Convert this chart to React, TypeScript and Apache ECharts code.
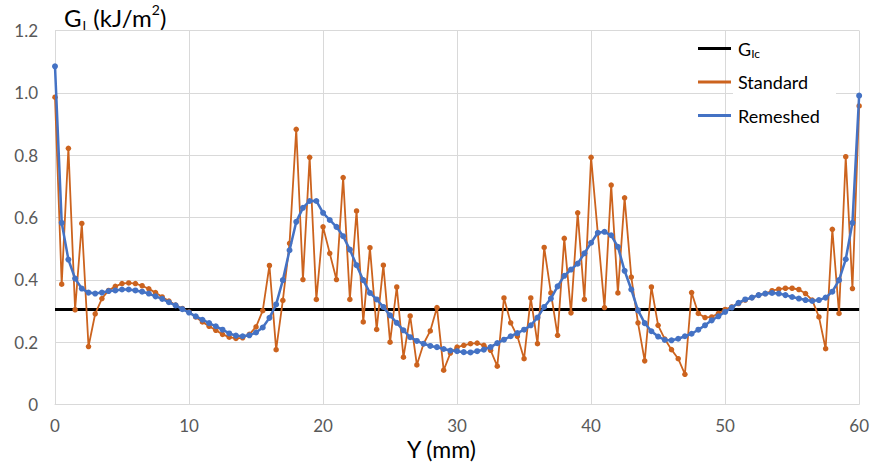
import React, { useEffect, useRef } from "react";
import * as echarts from "echarts";

// Position along Y (mm), sampled every 0.5 mm from 0 to 60
const Y_STEP_MM = 0.5;
const POINT_COUNT = 121;
const Y_POSITIONS: number[] = Array.from({ length: POINT_COUNT }, (_, i) => i * Y_STEP_MM);

// G_I values (kJ/m²) – Standard mesh
const STANDARD: number[] = [
  0.986, 0.386, 0.822, 0.304, 0.581, 0.186, 0.291, 0.340, 0.366, 0.379,
  0.388, 0.390, 0.388, 0.381, 0.371, 0.359, 0.345, 0.332, 0.319, 0.308,
  0.297, 0.281, 0.265, 0.251, 0.238, 0.225, 0.216, 0.212, 0.214, 0.225,
  0.249, 0.301, 0.446, 0.176, 0.334, 0.517, 0.883, 0.401, 0.793, 0.337,
  0.570, 0.485, 0.401, 0.728, 0.337, 0.621, 0.265, 0.503, 0.241, 0.447,
  0.200, 0.377, 0.152, 0.284, 0.127, 0.195, 0.236, 0.311, 0.110, 0.165,
  0.184, 0.190, 0.195, 0.197, 0.190, 0.174, 0.123, 0.342, 0.262, 0.219,
  0.147, 0.342, 0.195, 0.504, 0.358, 0.222, 0.533, 0.294, 0.615, 0.337,
  0.793, 0.550, 0.311, 0.704, 0.358, 0.663, 0.409, 0.262, 0.140, 0.377,
  0.254, 0.210, 0.176, 0.147, 0.097, 0.359, 0.292, 0.279, 0.281, 0.292,
  0.305, 0.313, 0.324, 0.335, 0.343, 0.351, 0.356, 0.365, 0.370, 0.373,
  0.373, 0.369, 0.356, 0.335, 0.281, 0.179, 0.562, 0.292, 0.795, 0.372,
  0.958,
];

// G_I values (kJ/m²) – Remeshed
const REMESHED: number[] = [
  1.085, 0.583, 0.465, 0.404, 0.372, 0.359, 0.356, 0.359, 0.364, 0.366,
  0.369, 0.369, 0.366, 0.362, 0.356, 0.347, 0.339, 0.328, 0.318, 0.306,
  0.295, 0.283, 0.272, 0.261, 0.251, 0.240, 0.228, 0.221, 0.219, 0.222,
  0.231, 0.247, 0.278, 0.321, 0.399, 0.495, 0.586, 0.631, 0.653, 0.653,
  0.615, 0.592, 0.570, 0.540, 0.497, 0.447, 0.399, 0.358, 0.337, 0.313,
  0.286, 0.262, 0.238, 0.216, 0.204, 0.195, 0.188, 0.184, 0.178, 0.173,
  0.171, 0.168, 0.167, 0.171, 0.176, 0.184, 0.197, 0.208, 0.219, 0.229,
  0.240, 0.254, 0.279, 0.313, 0.340, 0.379, 0.413, 0.433, 0.452, 0.485,
  0.519, 0.551, 0.554, 0.543, 0.506, 0.429, 0.369, 0.302, 0.261, 0.235,
  0.218, 0.207, 0.206, 0.211, 0.219, 0.227, 0.240, 0.254, 0.270, 0.283,
  0.297, 0.311, 0.326, 0.337, 0.343, 0.351, 0.356, 0.358, 0.356, 0.351,
  0.345, 0.340, 0.335, 0.332, 0.335, 0.343, 0.362, 0.399, 0.466, 0.583,
  0.991,
];

// Critical energy release rate G_Ic
const GIC_X: number[] = [0, 60];
const GIC_VALUE: number[] = [0.305, 0.305];

const SERIES_NAMES = ["GIc", "Standard", "Remeshed"];

const FONT = "Lato, 'Open Sans', sans-serif";

export default function App() {
  const ref = useRef<HTMLDivElement>(null);

  useEffect(() => {
    if (!ref.current) return;
    const chart = echarts.init(ref.current, undefined, { renderer: "svg" });
    const pairs = (xs: number[], ys: number[]) => xs.map((x, i) => [x, ys[i]]);

    chart.setOption({
      animation: false,
      backgroundColor: "#ffffff",
      textStyle: { fontFamily: FONT },
      grid: { left: 55, right: 10.5, top: 30.5, bottom: 69.5, containLabel: false },
      graphic: [
        {
          type: "rect",
          z: 1,
          shape: { x: 733, y: 88, width: 103, height: 8 },
          style: { fill: "#ffffff" },
          silent: true,
        },
        {
          type: "text",
          left: 64,
          top: 2,
          style: {
            text: "{a|G}{b|I}{a| (kJ/m}{c|2}{a|)}",
            rich: {
              a: { fontFamily: FONT, fontSize: 24, lineHeight: 30, fill: "#000" },
              b: { fontFamily: FONT, fontSize: 13, lineHeight: 14, verticalAlign: "bottom", fill: "#000", padding: [0, 1, 0, 1] },
              c: { fontFamily: FONT, fontSize: 14, lineHeight: 14, verticalAlign: "top", fill: "#000" },
            },
          },
        },
        {
          type: "text",
          left: 407,
          top: 435,
          style: {
            text: "Y (mm)",
            fontFamily: FONT,
            fontSize: 23,
            lineHeight: 28,
            fill: "#000",
          },
        },
      ],
      legend: {
        orient: "vertical",
        left: 693,
        top: 32.5,
        z: 5,
        icon: "rect",
        itemWidth: 33,
        itemHeight: 3,
        itemGap: 11.5,
        data: SERIES_NAMES,
        formatter: (name: string) => (name === "GIc" ? "{g|G}{s|Ic}" : name),
        textStyle: {
          fontFamily: FONT,
          fontSize: 18,
          lineHeight: 22,
          color: "#000",
          padding: [0, 0, 0, 2],
          rich: {
            g: { fontFamily: FONT, fontSize: 18, lineHeight: 22, color: "#000" },
            s: { fontFamily: FONT, fontSize: 12, lineHeight: 12, verticalAlign: "bottom", color: "#000" },
          },
        },
      },
      xAxis: {
        type: "value",
        min: 0,
        max: 60,
        interval: 10,
        axisLine: { show: true, lineStyle: { color: "#d9d9d9", width: 1 } },
        axisTick: { show: false },
        axisLabel: { margin: 12, fontFamily: FONT, fontSize: 17, color: "#595959" },
        splitLine: { show: true, lineStyle: { color: "#d9d9d9", width: 1 } },
      },
      yAxis: {
        type: "value",
        min: 0,
        max: 1.2,
        interval: 0.2,
        axisLine: { show: false },
        axisTick: { show: false },
        axisLabel: {
          margin: 17,
          fontFamily: FONT,
          fontSize: 17,
          color: "#595959",
          formatter: (v: number) => (v === 0 ? "0" : v.toFixed(1)),
        },
        splitLine: { show: true, lineStyle: { color: "#d9d9d9", width: 1 } },
      },
      series: [
        {
          name: "GIc",
          type: "line",
          data: pairs(GIC_X, GIC_VALUE),
          symbol: "none",
          lineStyle: { color: "#000000", width: 3 },
          itemStyle: { color: "#000000" },
          z: 2,
        },
        {
          name: "Standard",
          type: "line",
          data: pairs(Y_POSITIONS, STANDARD),
          symbol: "circle",
          symbolSize: 5.5,
          showSymbol: true,
          lineStyle: { color: "#cc631e", width: 1.8 },
          itemStyle: { color: "#cc631e" },
          z: 3,
        },
        {
          name: "Remeshed",
          type: "line",
          data: pairs(Y_POSITIONS, REMESHED),
          symbol: "circle",
          symbolSize: 6,
          showSymbol: true,
          lineStyle: { color: "#4472c4", width: 2.5 },
          itemStyle: { color: "#4472c4" },
          z: 4,
        },
      ],
    });

    return () => chart.dispose();
  }, []);

  return (
    <div
      ref={ref}
      style={{ position: "fixed", left: 0, top: 0, width: 872, height: 474 }}
    />
  );
}
